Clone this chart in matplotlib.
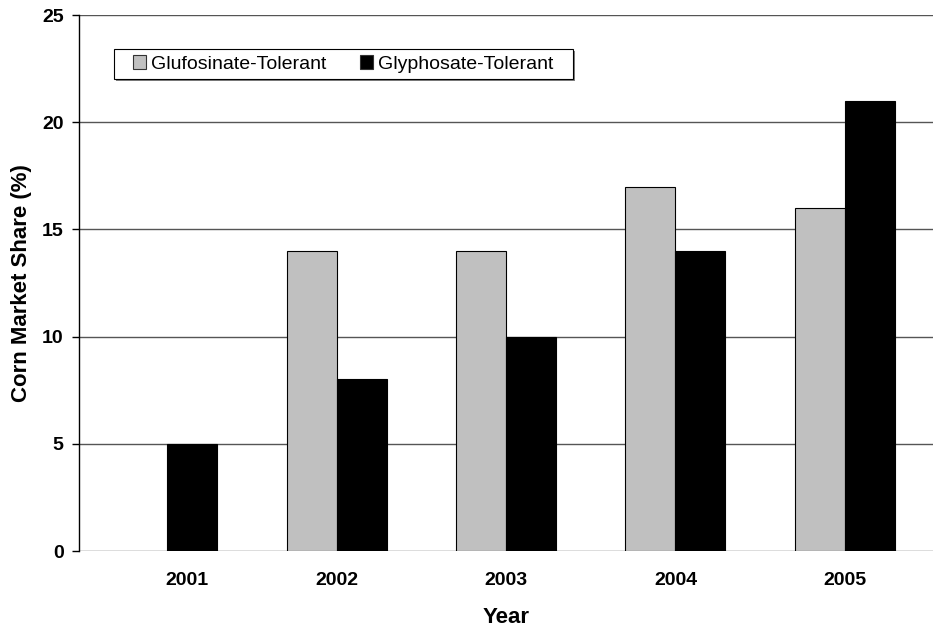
import numpy as np
import matplotlib
matplotlib.use("Agg")
import matplotlib.pyplot as plt
import matplotlib.transforms as mtransforms
from matplotlib.patches import Rectangle

plt.rcParams['font.family'] = ['Liberation Sans', 'DejaVu Sans']

years = ["2001", "2002", "2003", "2004", "2005"]
glufosinate = [np.nan, 14, 14, 17, 16]
glyphosate = [5, 8, 10, 14, 21]
series_names = ["Glufosinate-Tolerant", "Glyphosate-Tolerant"]

W, H = 933, 629
fig = plt.figure(figsize=(W / 100, H / 100), dpi=100)
ax = fig.add_axes([79 / W, 1 - 551 / H, 1 - 79 / W, (551 - 15) / H])

x = np.arange(len(years))
bw = 0.295
ax.bar(x - bw / 2, glufosinate, bw, color="#C0C0C0", edgecolor="black",
       linewidth=0.8, zorder=3, label=series_names[0])
ax.bar(x + bw / 2, glyphosate, bw, color="black", edgecolor="black",
       linewidth=0.8, zorder=3, label=series_names[1])

ax.set_xlim(-0.52, 4.52)
ax.set_ylim(0, 25)
ax.set_yticks([0, 5, 10, 15, 20, 25])
ax.set_xticks(x)
ax.set_xticklabels(years)

ax.yaxis.grid(True, color="#555555", linewidth=1.0, zorder=0)
ax.set_axisbelow(True)
for side in ("top", "right", "bottom"):
    ax.spines[side].set_visible(False)
ax.spines["left"].set_color("black")
ax.spines["left"].set_linewidth(1.0)
ax.spines["left"].set_zorder(4)

ax.tick_params(axis="y", length=5, width=1.0, pad=6, labelsize=14)
ax.tick_params(axis="x", length=0, pad=15, labelsize=14)
for lbl in ax.get_xticklabels() + ax.get_yticklabels():
    lbl.set_fontweight("bold")

# the first year label sits a little right of its category centre
first = ax.get_xticklabels()[0]
first.set_transform(first.get_transform() +
                    mtransforms.ScaledTranslation(20 / 100, 0, fig.dpi_scale_trans))

ax.set_ylabel("Corn Market Share (%)", fontsize=16, fontweight="bold", labelpad=7)
ax.set_xlabel("Year", fontsize=16, fontweight="bold", labelpad=13)

# legend entries without frame; frame and shadow drawn as figure patches
leg = fig.legend(loc="center left", bbox_to_anchor=(123 / W, 1 - 64 / H),
                 ncol=2, frameon=False, fontsize=14, borderpad=0,
                 handlelength=0.67, handleheight=0.67, handletextpad=0.26,
                 columnspacing=1.75)
for h in leg.legend_handles:
    h.set_edgecolor("#333333")
    h.set_linewidth(0.8)

bx0, by0, bx1, by1 = 114, 49, 573, 79
fig.patches.append(Rectangle((bx0 / W + 2 / W, 1 - (by1 + 2) / H),
                             (bx1 - bx0) / W, (by1 - by0) / H,
                             transform=fig.transFigure, facecolor="#808080",
                             edgecolor="none", zorder=1))
fig.patches.append(Rectangle((bx0 / W, 1 - by1 / H),
                             (bx1 - bx0) / W, (by1 - by0) / H,
                             transform=fig.transFigure, facecolor="white",
                             edgecolor="black", linewidth=0.8, zorder=2))

fig.savefig("out.png", dpi=100)
